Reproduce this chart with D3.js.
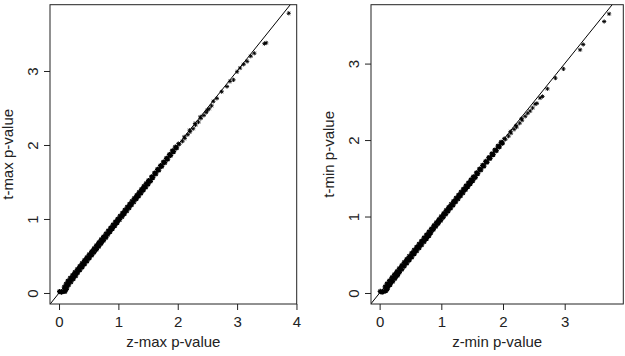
<!DOCTYPE html>
<html>
<head>
<meta charset="utf-8">
<script src="https://cdn.jsdelivr.net/npm/d3@7"></script>
<style>
  body { margin: 0; background: #fff; }
  svg text { font-family: "Liberation Sans", Arial, Helvetica, sans-serif; fill: #222; }
</style>
</head>
<body>
<div id="my_datavis"></div>
<script>
// z-max vs t-max (-log10 p) values
var maxPairs = [
  [0.01,0.02],[0.04,0.01],[0.07,0.02],[0.10,0.02],[0.12,0.05],
  [0.13,0.07],[0.09,0.08],[0.16,0.11],[0.12,0.12],[0.20,0.15],[0.15,0.16],
  [0.24,0.19],[0.19,0.20],[0.28,0.23],[0.23,0.24],[0.31,0.27],[0.27,0.28],
  [0.35,0.31],[0.31,0.32],[0.39,0.35],[0.35,0.36],[0.43,0.39],[0.39,0.40],
  [0.47,0.43],[0.43,0.44],[0.51,0.47],[0.47,0.48],[0.55,0.51],[0.51,0.52],
  [0.59,0.55],[0.55,0.56],[0.63,0.59],[0.59,0.60],[0.67,0.63],[0.63,0.64],
  [0.71,0.67],[0.67,0.68],[0.75,0.71],[0.71,0.72],[0.79,0.75],[0.75,0.76],
  [0.82,0.79],[0.79,0.80],[0.86,0.83],[0.83,0.84],[0.90,0.87],[0.87,0.88],
  [0.94,0.91],[0.91,0.92],[0.98,0.95],[0.95,0.96],[1.02,0.99],[0.99,1.00],
  [1.06,1.03],[1.03,1.04],[1.10,1.07],[1.07,1.08],[1.14,1.11],[1.11,1.12],
  [1.18,1.15],[1.15,1.16],[1.22,1.19],[1.19,1.20],[1.26,1.23],[1.23,1.24],
  [1.30,1.27],[1.27,1.28],[1.34,1.31],[1.31,1.32],[1.38,1.35],[1.35,1.36],
  [1.42,1.39],[1.39,1.40],[1.46,1.43],[1.43,1.44],[1.50,1.47],[1.47,1.48],
  [1.54,1.51],[1.51,1.52],[1.58,1.56],[1.56,1.57],[1.63,1.61],[1.61,1.62],
  [1.68,1.66],[1.66,1.67],[1.73,1.71],[1.71,1.72],[1.78,1.76],[1.76,1.77],
  [1.83,1.81],[1.81,1.82],[1.88,1.86],[1.86,1.87],[1.93,1.91],[1.91,1.92],
  [1.98,1.96],[1.96,1.97],[2.03,2.01],[2.01,2.02],[2.08,2.05],[2.12,2.09],
  [2.11,2.11],[2.17,2.14],[2.21,2.18],[2.20,2.20],[2.26,2.22],[2.30,2.27],
  [2.29,2.29],[2.35,2.31],[2.39,2.36],[2.38,2.38],[2.44,2.40],[2.48,2.44],
  [2.50,2.47],[2.53,2.49],[2.57,2.53],
  [2.60,2.59],[2.66,2.63],[2.74,2.72],[2.83,2.79],[2.88,2.86],[2.94,2.88],
  [3.00,2.99],[3.05,3.04],[3.11,3.09],[3.17,3.13],[3.23,3.20],[3.29,3.24],
  [3.46,3.37],[3.49,3.38],[3.87,3.78]
];

// z-min vs t-min values
var minPairs = [
  [0.01,0.02],[0.04,0.01],[0.07,0.02],[0.10,0.03],[0.12,0.05],
  [0.13,0.07],[0.09,0.08],[0.17,0.11],[0.12,0.12],[0.21,0.15],[0.16,0.16],
  [0.25,0.19],[0.20,0.20],[0.29,0.23],[0.24,0.24],[0.32,0.27],[0.28,0.28],
  [0.36,0.31],[0.32,0.32],[0.40,0.35],[0.36,0.36],[0.44,0.39],[0.40,0.40],
  [0.48,0.43],[0.44,0.44],[0.52,0.47],[0.48,0.48],[0.56,0.51],[0.52,0.52],
  [0.60,0.55],[0.56,0.56],[0.64,0.59],[0.60,0.60],[0.68,0.63],[0.64,0.64],
  [0.72,0.67],[0.68,0.68],[0.76,0.71],[0.72,0.72],[0.80,0.75],[0.76,0.76],
  [0.83,0.79],[0.80,0.80],[0.87,0.83],[0.84,0.84],[0.91,0.87],[0.88,0.88],
  [0.95,0.91],[0.92,0.92],[0.99,0.95],[0.96,0.96],[1.03,0.99],[1.00,1.00],
  [1.07,1.03],[1.04,1.04],[1.11,1.07],[1.08,1.08],[1.15,1.11],[1.12,1.12],
  [1.19,1.15],[1.16,1.16],[1.23,1.19],[1.20,1.20],[1.27,1.23],[1.24,1.24],
  [1.31,1.27],[1.28,1.28],[1.35,1.31],[1.32,1.32],[1.39,1.35],[1.36,1.36],
  [1.43,1.39],[1.40,1.40],[1.47,1.43],[1.44,1.44],[1.51,1.47],[1.48,1.48],
  [1.55,1.51],[1.52,1.52],[1.59,1.56],[1.57,1.57],[1.64,1.61],[1.62,1.62],
  [1.69,1.66],[1.67,1.67],[1.74,1.71],[1.72,1.72],[1.79,1.76],[1.77,1.77],
  [1.84,1.81],[1.82,1.82],[1.89,1.86],[1.87,1.87],[1.94,1.91],[1.92,1.92],
  [1.99,1.96],[1.97,1.97],[2.04,2.01],[2.02,2.02],[2.09,2.05],[2.13,2.09],
  [2.12,2.11],[2.18,2.14],[2.22,2.17],[2.21,2.19],[2.27,2.22],[2.31,2.26],
  [2.30,2.28],[2.36,2.31],[2.40,2.35],[2.44,2.38],[2.48,2.42],[2.52,2.47],
  [2.55,2.48],
  [2.60,2.55],[2.64,2.57],[2.72,2.67],[2.85,2.81],[2.98,2.93],
  [3.25,3.18],[3.30,3.25],[3.64,3.55],[3.72,3.65]
];

var maxTicksX = [0, 1, 2, 3, 4];
var maxTicksY = [0, 1, 2, 3];
var minTicksX = [0, 1, 2, 3];
var minTicksY = [0, 1, 2, 3];

var width = 625, height = 356;

var svg = d3.select("#my_datavis")
  .append("svg")
  .attr("width", width)
  .attr("height", height);

// small asterisk, like R's "*" plotting character
function star(r) {
  var d = r * 0.72;
  return "M" + (-r) + ",0L" + r + ",0" +
         "M0," + (-r) + "L0," + r +
         "M" + (-d) + "," + (-d) + "L" + d + "," + d +
         "M" + (-d) + "," + d + "L" + d + "," + (-d);
}

function drawPanel(p) {
  var x = d3.scaleLinear().domain(p.xDomain).range([p.left, p.right]);
  var y = d3.scaleLinear().domain(p.yDomain).range([p.bottom, p.top]);
  var g = svg.append("g");

  // y = x reference line, clipped to the box
  var clipId = "clip" + p.id;
  g.append("clipPath").attr("id", clipId)
    .append("rect")
    .attr("x", p.left).attr("y", p.top)
    .attr("width", p.right - p.left).attr("height", p.bottom - p.top);

  var lo = Math.min(p.xDomain[0], p.yDomain[0]);
  var hi = Math.max(p.xDomain[1], p.yDomain[1]);
  g.append("line")
    .attr("clip-path", "url(#" + clipId + ")")
    .attr("x1", x(lo)).attr("y1", y(lo))
    .attr("x2", x(hi)).attr("y2", y(hi))
    .attr("stroke", "#000")
    .attr("stroke-width", 1);

  // dense part gets a heavier star so the band closes up like the original
  function heavy(d) { return d[1] < 2.0; }
  g.append("g")
    .selectAll("path")
    .data(p.data)
    .enter()
    .append("path")
    .attr("d", function(d) { return star(heavy(d) ? 2.6 : 2.1); })
    .attr("transform", function(d) { return "translate(" + x(d[0]) + "," + y(d[1]) + ")"; })
    .attr("fill", "none")
    .attr("stroke", "#000")
    .attr("stroke-width", function(d) { return heavy(d) ? 1.3 : 0.9; });

  // box
  g.append("rect")
    .attr("x", p.left).attr("y", p.top)
    .attr("width", p.right - p.left).attr("height", p.bottom - p.top)
    .attr("fill", "none")
    .attr("stroke", "#222")
    .attr("stroke-width", 1);

  // x axis
  var xa = g.append("g")
    .attr("transform", "translate(0," + p.bottom + ")")
    .call(d3.axisBottom(x).tickValues(p.xTicks).tickSize(6).tickFormat(d3.format("d")));
  xa.select(".domain").remove();
  xa.selectAll("line").attr("stroke", "#222");
  xa.selectAll("text")
    .attr("y", 23).attr("dy", null)
    .style("font-size", "15px");

  // y axis, labels turned like R's default
  var ya = g.append("g")
    .attr("transform", "translate(" + p.left + ",0)")
    .call(d3.axisLeft(y).tickValues(p.yTicks).tickSize(6).tickFormat(d3.format("d")));
  ya.select(".domain").remove();
  ya.selectAll("line").attr("stroke", "#222");
  ya.selectAll("text")
    .attr("x", null).attr("dy", null)
    .attr("transform", "translate(-12.5,0) rotate(-90)")
    .attr("text-anchor", "middle")
    .style("font-size", "15px");

  g.append("text")
    .attr("x", (p.left + p.right) / 2)
    .attr("y", 347)
    .attr("text-anchor", "middle")
    .style("font-size", "15px")
    .text(p.xLabel);

  g.append("text")
    .attr("transform", "translate(" + (p.left - 37.5) + "," + ((p.top + p.bottom) / 2) + ") rotate(-90)")
    .attr("text-anchor", "middle")
    .style("font-size", "15px")
    .text(p.yLabel);
}

drawPanel({
  id: "a", data: maxPairs,
  left: 50, right: 296.7, top: 4.7, bottom: 304,
  xDomain: [-0.152, 4.004], yDomain: [-0.149, 3.896],
  xTicks: maxTicksX, yTicks: maxTicksY,
  xLabel: "z-max p-value", yLabel: "t-max p-value"
});

drawPanel({
  id: "b", data: minPairs,
  left: 371, right: 623.3, top: 4.7, bottom: 304,
  xDomain: [-0.14, 3.95], yDomain: [-0.144, 3.77],
  xTicks: minTicksX, yTicks: minTicksY,
  xLabel: "z-min p-value", yLabel: "t-min p-value"
});
</script>
</body>
</html>
